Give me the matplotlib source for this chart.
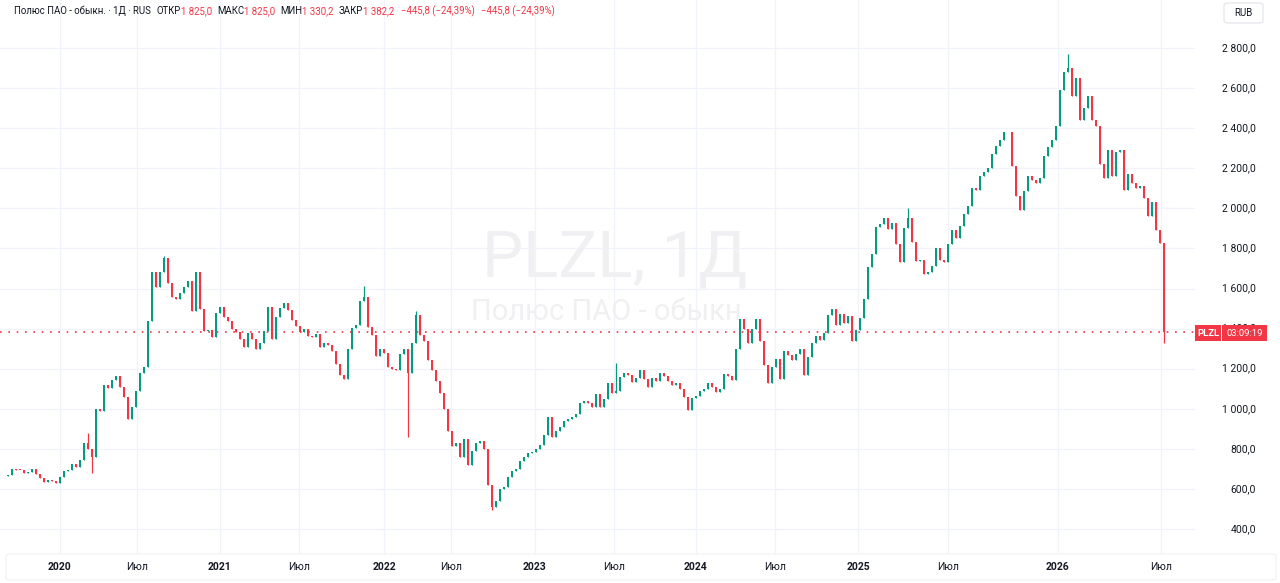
import matplotlib
matplotlib.use("Agg")
import matplotlib.pyplot as plt
from matplotlib.patches import Rectangle, FancyBboxPatch

# ---------------- data ----------------
closes = [
    # late 2019 - 2020
    669, 700, 695, 694, 680, 685, 700, 675, 655, 635,
    645, 640, 628, 660, 690, 694, 725, 710, 745, 830,
    800, 760, 1000, 990, 1120, 1105, 1145, 1165, 1110, 1060,
    950, 1010, 1090, 1180, 1210, 1440, 1680, 1610, 1680, 1750,
    1630, 1560, 1550, 1580, 1610, 1640, 1490, 1680, 1500,
    # 2021 - early 2022
    1390, 1395, 1360, 1480, 1510, 1460, 1440, 1400, 1385, 1350,
    1310, 1380, 1350, 1300, 1330, 1390, 1510, 1350, 1460, 1505,
    1530, 1495, 1445, 1415, 1385, 1400, 1365, 1360, 1375, 1310,
    1330, 1320, 1290, 1225, 1170, 1150, 1300, 1405, 1420, 1540,
    1560, 1410, 1370, 1265, 1300, 1280, 1210, 1200, 1195, 1275,
    1300, 1180, 1330, 1470, 1370,
    # 2022 - 2023
    1340, 1245, 1195, 1140, 1080, 1000, 890, 815, 830, 760,
    850, 720, 790, 830, 840, 800, 620, 510, 540, 600,
    610, 660, 690, 700, 740, 760, 780, 785, 800, 820,
    870, 960, 860, 890, 910, 940, 950, 960, 975, 1030,
    1040, 1030, 1010, 1075, 1010, 1050, 1130,
    # 2023 - 2024
    1080, 1090, 1160, 1180, 1170, 1135, 1155, 1195, 1150, 1110,
    1155, 1140, 1180, 1165, 1140, 1120, 1130, 1100, 1060, 995,
    1055, 1065, 1090, 1100, 1130, 1110, 1085, 1100, 1175, 1165,
    1145, 1300, 1450, 1400, 1330, 1400, 1450, 1340, 1220, 1130,
    1210, 1250, 1150, 1290, 1270, 1245, 1275, 1300, 1170, 1260,
    1330,
    # late 2024 - 2025
    1365, 1345, 1380, 1470, 1500, 1420, 1475, 1430, 1465, 1340,
    1395, 1455, 1550, 1705, 1770, 1905, 1920, 1950, 1895, 1925,
    1820, 1730, 1900, 1950, 1830, 1735, 1740, 1670, 1680, 1710,
    1800, 1740, 1730, 1820, 1890, 1850, 1910, 1970, 2010, 2100,
    2090, 2160, 2180, 2200, 2270, 2310, 2340, 2380, 2380, 2210,
    # late 2025 - 2026
    2060, 1990, 2085, 2160, 2140, 2125, 2150, 2260, 2305, 2340,
    2410, 2590, 2680, 2700, 2560, 2650, 2440, 2500, 2560, 2440,
    2410, 2220, 2150, 2290, 2160, 2280, 2290, 2090, 2170, 2125,
    2100, 2110, 2050, 1960, 2030, 1890, 1828, 1382,
]
first_open = 665
high_wicks = {20: 880, 39: 1760, 89: 1615, 102: 1490, 152: 1230, 225: 2000, 265: 2770}
low_wicks = {21: 680, 100: 860, 121: 495, 289: 1330}

last_price = 1382.2
price_levels = [400, 600, 800, 1000, 1200, 1400, 1600, 1800, 2000, 2200, 2400, 2600, 2800]
time_labels = ["2020", "Июл", "2021", "Июл", "2022", "Июл", "2023", "Июл",
               "2024", "Июл", "2025", "Июл", "2026", "Июл"]
time_label_pos = [13.0, 32.25, 53, 72.75, 94, 110.75, 131.75, 151.5,
                  172, 191.75, 212.5, 235, 262.5, 288.25]

header_parts = [
    ("Полюс ПАО - обыкн. · 1Д · RUS", "dark", 6),
    ("ОТКР", "dark", 0), ("1 825,0", "red", 5),
    ("МАКС", "dark", 0), ("1 825,0", "red", 5),
    ("МИН", "dark", 0), ("1 330,2", "red", 5),
    ("ЗАКР", "dark", 0), ("1 382,2", "red", 7),
    ("−445,8 (−24,39%)", "red", 6),
    ("−445,8 (−24,39%)", "red", 0),
]

# ---------------- style ----------------
W, H = 1280, 583
UP = "#089981"
DOWN = "#F23645"
TXT = "#131722"
GRID = "#f0f3fa"
plt.rcParams["font.family"] = ["Roboto", "DejaVu Sans"]

fig = plt.figure(figsize=(W / 100, H / 100), dpi=100)
fig.patch.set_facecolor("white")

pane_right = 1195
pane_bottom = 553
ax = fig.add_axes([0, 1 - pane_bottom / H, pane_right / W, pane_bottom / H])
ax.set_facecolor("white")
for s in ax.spines.values():
    s.set_visible(False)

n = len(closes)
opens = [first_open] + closes[:-1]
xs = list(range(n))
highs = [max(o, c) for o, c in zip(opens, closes)]
lows = [min(o, c) for o, c in zip(opens, closes)]
for i, v in high_wicks.items():
    highs[i] = max(highs[i], v)
for i, v in low_wicks.items():
    lows[i] = min(lows[i], v)

colors = [UP if c >= o else DOWN for o, c in zip(opens, closes)]
ax.vlines(xs, lows, highs, colors=colors, linewidth=0.9, zorder=3)
bottoms = [min(o, c) for o, c in zip(opens, closes)]
heights = [max(abs(c - o), 3) for o, c in zip(opens, closes)]
ax.bar(xs, heights, bottom=bottoms, width=0.6, color=colors, linewidth=0, zorder=3)

ax.set_xlim(-2, 296.75)
ax.set_ylim(280, 3040)

# grid
for lv in price_levels:
    ax.axhline(lv, color=GRID, lw=0.9, zorder=0)
for p in time_label_pos:
    ax.axvline(p, color=GRID, lw=0.9, zorder=0)
ax.set_xticks([])
ax.set_yticks([])

# watermark
ax.text(0.5146, 0.533, "PLZL, 1Д", transform=ax.transAxes, ha="center", va="center",
        fontsize=47, color="#f0f0f2", zorder=1)
ax.text(0.511, 0.436, "Полюс ПАО - обыкн.", transform=ax.transAxes, ha="center", va="center",
        fontsize=21, color="#f0f0f2", zorder=1)

# last price dotted line
ax.axhline(last_price, color=DOWN, lw=1.2, linestyle=(0, (1, 4)), zorder=2)

# price scale labels
for lv in price_levels:
    lab = f"{lv:,.1f}".replace(",", " ").replace(".", ",")
    ax.text(1256 / pane_right, lv, lab, transform=ax.get_yaxis_transform(),
            ha="right", va="center", fontsize=7.5, color=TXT, clip_on=False)

# time scale labels
for p, lab in zip(time_label_pos, time_labels):
    bold = lab.isdigit()
    ax.text(p, -14 / pane_bottom, lab, transform=ax.get_xaxis_transform(),
            ha="center", va="center", fontsize=7.5, color=TXT,
            fontweight="bold" if bold else "normal", clip_on=False)

# time scale frame
fig.patches.append(FancyBboxPatch((6 / W, 3 / H), 1270 / W, 26 / H,
                                  boxstyle="round,pad=0,rounding_size=0.004",
                                  transform=fig.transFigure, facecolor="none",
                                  edgecolor="#f0f1f4", lw=0.8))


def fpx(x, y):
    return x / W, 1 - y / H


# last price label boxes
ylab = 333
fig.patches.append(Rectangle(fpx(1195, 341), 26 / W, 16 / H, transform=fig.transFigure,
                             facecolor=DOWN, edgecolor="none", zorder=5))
fig.patches.append(Rectangle(fpx(1222, 341), 45 / W, 16 / H, transform=fig.transFigure,
                             facecolor=DOWN, edgecolor="none", zorder=5))
fig.text(*fpx(1208, ylab), "PLZL", ha="center", va="center", fontsize=6.8,
         color="white", fontweight="bold", zorder=6)
fig.text(*fpx(1244.5, ylab), "03:09:19", ha="center", va="center", fontsize=6.8,
         color="white", zorder=6)

# RUB box
fig.patches.append(FancyBboxPatch(fpx(1224, 23), 39 / W, 20 / H,
                                  boxstyle="round,pad=0,rounding_size=0.004",
                                  transform=fig.transFigure, facecolor="white",
                                  edgecolor="#e0e3eb", lw=0.8))
fig.text(*fpx(1243.5, 12.5), "RUB", ha="center", va="center", fontsize=7, color=TXT)

# header line
fig.canvas.draw()
renderer = fig.canvas.get_renderer()
x = 14
cmap = {"dark": TXT, "red": DOWN}
for txt, col, gap in header_parts:
    t = fig.text(*fpx(x, 11), txt, ha="left", va="center", fontsize=6.9, color=cmap[col])
    bb = t.get_window_extent(renderer=renderer)
    x += bb.width + gap

fig.savefig("out.png", dpi=100, facecolor="white")
